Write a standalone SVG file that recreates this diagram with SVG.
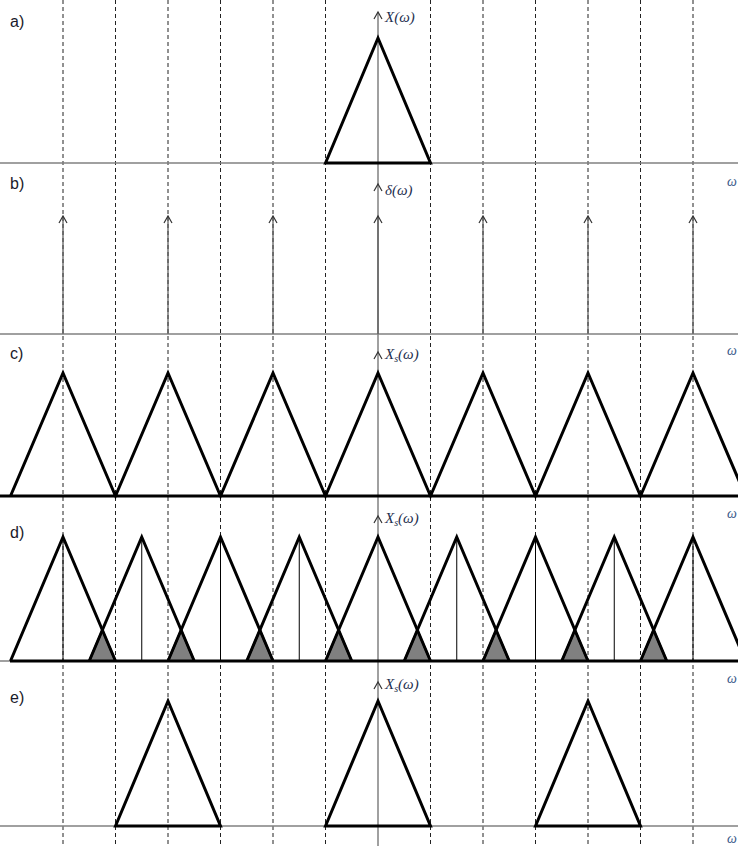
<svg xmlns="http://www.w3.org/2000/svg" width="738" height="846" viewBox="0 0 738 846">
<style>
.dash{stroke:#222;stroke-width:1;stroke-dasharray:4 3;fill:none}
.axis{stroke:#808080;stroke-width:1.5;fill:none}
.tri{stroke:#000;stroke-width:3;fill:none;stroke-linejoin:miter}
.imp{stroke:#555;stroke-width:1.2;fill:none}
.chev{stroke:#333;stroke-width:1.2;fill:none}
.thin{stroke:#000;stroke-width:1;fill:none}
.shade{fill:#808080;stroke:#000;stroke-width:2}
.lab{font-family:"Liberation Sans",Arial,sans-serif;font-size:16px;fill:#1a1a2a}
.math{font-family:"Liberation Serif","DejaVu Serif",serif;font-style:italic;font-size:15px;fill:#1f2f4f}
.om{font-family:"Liberation Serif","DejaVu Serif",serif;font-style:italic;font-size:14px;fill:#3a5a8a}
</style>
<g id="grid">
<line class="dash" x1="63" y1="0" x2="63" y2="846"/>
<line class="dash" x1="115.5" y1="0" x2="115.5" y2="846"/>
<line class="dash" x1="168" y1="0" x2="168" y2="846"/>
<line class="dash" x1="220.5" y1="0" x2="220.5" y2="846"/>
<line class="dash" x1="273" y1="0" x2="273" y2="846"/>
<line class="dash" x1="325.5" y1="0" x2="325.5" y2="846"/>
<line class="dash" x1="430.5" y1="0" x2="430.5" y2="846"/>
<line class="dash" x1="483" y1="0" x2="483" y2="846"/>
<line class="dash" x1="535.5" y1="0" x2="535.5" y2="846"/>
<line class="dash" x1="588" y1="0" x2="588" y2="846"/>
<line class="dash" x1="640.5" y1="0" x2="640.5" y2="846"/>
<line class="dash" x1="693" y1="0" x2="693" y2="846"/>
</g>
<g id="axes">
<line class="axis" x1="378" y1="846" x2="378" y2="12"/>
<path class="chev" d="M374,19 L378,12 L382,19"/>
<path class="chev" d="M374,191 L378,184 L382,191"/>
<path class="chev" d="M374,359 L378,352 L382,359"/>
<path class="chev" d="M374,523 L378,516 L382,523"/>
<path class="chev" d="M374,689 L378,682 L382,689"/>
<line class="axis" x1="0" y1="163" x2="738" y2="163"/>
<line class="axis" x1="0" y1="334" x2="738" y2="334"/>
<line class="axis" x1="0" y1="496" x2="738" y2="496"/>
<line class="axis" x1="0" y1="661" x2="738" y2="661"/>
<line class="axis" x1="0" y1="826" x2="738" y2="826"/>
</g>
<g id="panel-a">
<text class="lab" x="10" y="27">a)</text>
<text class="math" x="385" y="22">X(ω)</text>
<path class="tri" d="M325.5,163 L378,38 L430.5,163 Z"/>
<text class="om" x="727" y="186">ω</text>
</g>
<g id="panel-b">
<text class="lab" x="10" y="189">b)</text>
<text class="math" x="385" y="195">δ(ω)</text>
<g class="imp">
<line x1="63" y1="334" x2="63" y2="216"/>
<line x1="168" y1="334" x2="168" y2="216"/>
<line x1="273" y1="334" x2="273" y2="216"/>
<line x1="378" y1="334" x2="378" y2="216"/>
<line x1="483" y1="334" x2="483" y2="216"/>
<line x1="588" y1="334" x2="588" y2="216"/>
<line x1="693" y1="334" x2="693" y2="216"/>
</g>
<g class="chev">
<path d="M59,223 L63,216 L67,223"/>
<path d="M164,223 L168,216 L172,223"/>
<path d="M269,223 L273,216 L277,223"/>
<path d="M374,223 L378,216 L382,223"/>
<path d="M479,223 L483,216 L487,223"/>
<path d="M584,223 L588,216 L592,223"/>
<path d="M689,223 L693,216 L697,223"/>
</g>
<text class="om" x="727" y="355">ω</text>
</g>
<g id="panel-c">
<text class="lab" x="10" y="359">c)</text>
<text class="math" x="385" y="359">X<tspan font-size="10" dy="3">s</tspan><tspan dy="-3">(ω)</tspan></text>
<path class="tri" d="M10.5,496 L63,373 L115.5,496 L168,373 L220.5,496 L273,373 L325.5,496 L378,373 L430.5,496 L483,373 L535.5,496 L588,373 L640.5,496 L693,373 L745.5,496 M0,496 L738,496"/>
<text class="om" x="727" y="518">ω</text>
</g>
<g id="panel-d">
<text class="lab" x="10" y="538">d)</text>
<text class="math" x="385" y="523">X<tspan font-size="10" dy="3">s</tspan><tspan dy="-3">(ω)</tspan></text>
<g>
<path class="shade" d="M89.25,661 L102.375,630 L115.5,661 Z"/>
<path class="shade" d="M168,661 L181.125,630 L194.25,661 Z"/>
<path class="shade" d="M246.75,661 L259.875,630 L273,661 Z"/>
<path class="shade" d="M325.5,661 L338.625,630 L351.75,661 Z"/>
<path class="shade" d="M404.25,661 L417.375,630 L430.5,661 Z"/>
<path class="shade" d="M483,661 L496.125,630 L509.25,661 Z"/>
<path class="shade" d="M561.75,661 L574.875,630 L588,661 Z"/>
<path class="shade" d="M640.5,661 L653.625,630 L666.75,661 Z"/>
</g>
<g class="thin">
<line x1="63" y1="537" x2="63" y2="661"/>
<line x1="141.75" y1="537" x2="141.75" y2="661"/>
<line x1="220.5" y1="537" x2="220.5" y2="661"/>
<line x1="299.25" y1="537" x2="299.25" y2="661"/>
<line x1="456.75" y1="537" x2="456.75" y2="661"/>
<line x1="535.5" y1="537" x2="535.5" y2="661"/>
<line x1="614.25" y1="537" x2="614.25" y2="661"/>
<line x1="693" y1="537" x2="693" y2="661"/>
</g>
<g class="tri">
<path d="M10.5,661 L63,537 L115.5,661"/>
<path d="M89.25,661 L141.75,537 L194.25,661"/>
<path d="M168,661 L220.5,537 L273,661"/>
<path d="M246.75,661 L299.25,537 L351.75,661"/>
<path d="M325.5,661 L378,537 L430.5,661"/>
<path d="M404.25,661 L456.75,537 L509.25,661"/>
<path d="M483,661 L535.5,537 L588,661"/>
<path d="M561.75,661 L614.25,537 L666.75,661"/>
<path d="M640.5,661 L693,537 L745.5,661"/>
<path d="M10,661 L738,661"/>
</g>
<text class="om" x="727" y="683">ω</text>
</g>
<g id="panel-e">
<text class="lab" x="10" y="703">e)</text>
<text class="math" x="385" y="689">X<tspan font-size="10" dy="3">s</tspan><tspan dy="-3">(ω)</tspan></text>
<path class="tri" d="M115.5,826 L168,701 L220.5,826 Z"/>
<path class="tri" d="M325.5,826 L378,701 L430.5,826 Z"/>
<path class="tri" d="M535.5,826 L588,701 L640.5,826 Z"/>
<text class="om" x="727" y="843">ω</text>
</g>
</svg>
